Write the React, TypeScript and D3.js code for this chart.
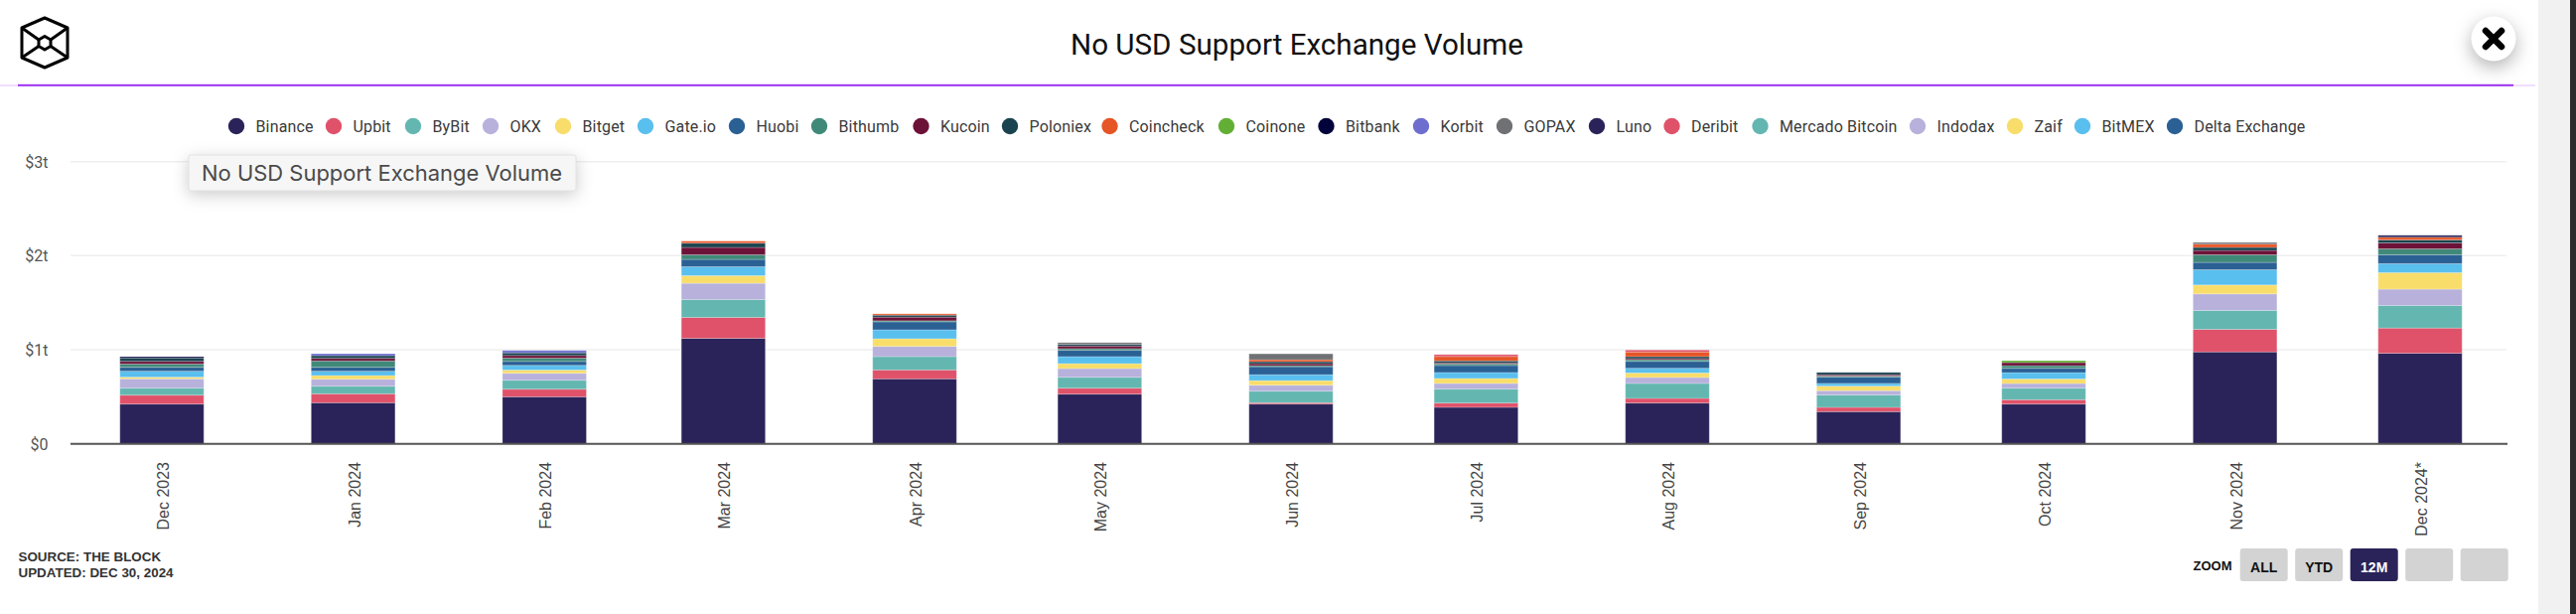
import React from 'react';
import * as d3 from 'd3';

const WIDTH = 2594;
const HEIGHT = 618;

const title = 'No USD Support Exchange Volume';
const categories = ['Dec 2023', 'Jan 2024', 'Feb 2024', 'Mar 2024', 'Apr 2024', 'May 2024', 'Jun 2024', 'Jul 2024', 'Aug 2024', 'Sep 2024', 'Oct 2024', 'Nov 2024', 'Dec 2024*'];
const yTicks = [0, 1, 2, 3];
const yTickLabels = ['$0', '$1t', '$2t', '$3t'];
const zoomButtons = ['ALL', 'YTD', '12M', '', ''];

// values in $ trillions, one per month
const binance = [0.423, 0.437, 0.5, 1.122, 0.691, 0.529, 0.423, 0.388, 0.434, 0.342, 0.423, 0.977, 0.963];
const upbit = [0.095, 0.095, 0.081, 0.222, 0.095, 0.063, 0.014, 0.046, 0.049, 0.046, 0.046, 0.24, 0.268];
const bybit = [0.074, 0.081, 0.095, 0.19, 0.141, 0.116, 0.123, 0.148, 0.159, 0.131, 0.123, 0.201, 0.24];
const okx = [0.099, 0.074, 0.074, 0.173, 0.109, 0.092, 0.063, 0.06, 0.063, 0.046, 0.049, 0.176, 0.173];
const bitget = [0.018, 0.039, 0.035, 0.081, 0.081, 0.053, 0.049, 0.053, 0.049, 0.049, 0.049, 0.095, 0.176];
const gateio = [0.063, 0.046, 0.049, 0.095, 0.095, 0.074, 0.063, 0.063, 0.049, 0.028, 0.067, 0.162, 0.095];
const huobi = [0.042, 0.042, 0.042, 0.078, 0.085, 0.067, 0.085, 0.074, 0.074, 0.067, 0.046, 0.078, 0.095];
const bithumb = [0.035, 0.067, 0.035, 0.049, 0.011, 0.018, 0.011, 0.018, 0.018, 0.011, 0.028, 0.081, 0.063];
const kucoin = [0.028, 0.028, 0.028, 0.078, 0.039, 0.028, 0.021, 0.011, 0.011, 0.014, 0.032, 0.046, 0.063];
const poloniex = [0.035, 0.028, 0.028, 0.046, 0.021, 0.018, 0.021, 0.021, 0.021, 0.025, 0, 0.032, 0.032];
const coincheck = [0, 0, 0, 0.021, 0.014, 0, 0.021, 0.046, 0.049, 0, 0, 0.035, 0.028];
const coinone = [0, 0, 0, 0, 0, 0, 0, 0, 0, 0, 0.021, 0, 0];
const bitbank = [0.014, 0, 0, 0, 0, 0, 0, 0, 0, 0, 0, 0, 0];
const korbit = [0, 0.021, 0.025, 0, 0, 0, 0, 0, 0, 0, 0, 0, 0];
const gopax = [0, 0, 0, 0, 0, 0.018, 0.063, 0, 0, 0, 0, 0.018, 0];
const luno = [0, 0, 0, 0, 0, 0, 0, 0, 0, 0, 0, 0, 0.021];
const deribit = [0, 0, 0, 0, 0, 0, 0, 0.021, 0.021, 0, 0, 0, 0];
const zeros = [0, 0, 0, 0, 0, 0, 0, 0, 0, 0, 0, 0, 0];

const seriesNames = ['Binance', 'Upbit', 'ByBit', 'OKX', 'Bitget', 'Gate.io', 'Huobi', 'Bithumb', 'Kucoin', 'Poloniex', 'Coincheck', 'Coinone', 'Bitbank', 'Korbit', 'GOPAX', 'Luno', 'Deribit', 'Mercado Bitcoin', 'Indodax', 'Zaif', 'BitMEX', 'Delta Exchange'];
const seriesValues = [binance, upbit, bybit, okx, bitget, gateio, huobi, bithumb, kucoin, poloniex, coincheck, coinone, bitbank, korbit, gopax, luno, deribit, zeros, zeros, zeros, zeros, zeros];
const seriesColors = ['#2a2359', '#df526a', '#63b7b0', '#b7b1dc', '#f8dd6b', '#59bfee', '#2a6094', '#408979', '#6c1238', '#19434f', '#e65526', '#63af35', '#02033a', '#6e6ecf', '#707174', '#2a2359', '#df526a', '#63b7b0', '#b7b1dc', '#f8dd6b', '#59bfee', '#2a6094'];
const legendX = [238, 336, 416, 494, 567, 650, 742, 825, 927.5, 1017, 1117.5, 1235, 1335.5, 1431, 1515, 1608, 1683.5, 1772.5, 1931, 2029, 2097, 2190];

const months = d3.utcMonth.range(new Date(Date.UTC(2023, 11, 1)), new Date(Date.UTC(2025, 0, 1)));

const x = d3.scaleUtc().domain([months[0], months[months.length - 1]]).range([163, 2437]);
const y = d3.scaleLinear().domain([0, 3]).range([446.7, 162.7]);
const barWidth = 84.5;

const rows = months.map((_, i) => {
  const row: Record<string, number> = {};
  seriesNames.forEach((name, s) => { row[name] = seriesValues[s][i]; });
  return row;
});
const stacked = d3.stack().keys(seriesNames)(rows);

const uiFont = 'Roboto, sans-serif';
const helvetica = '"Liberation Sans", Arial, sans-serif';

const App = () => (
  <svg width={WIDTH} height={HEIGHT} style={{ position: 'fixed', left: 0, top: 0, background: '#fff' }}>
    {/* page chrome on the right */}
    <rect x={2556} y={0} width={32} height={HEIGHT} fill="#f1f1f1" />
    <rect x={2588} y={0} width={6} height={HEIGHT} fill="#2b2b2b" />

    {/* logo */}
    <g fill="none" stroke="#000" strokeWidth={3} strokeLinejoin="round">
      <path d="M45 18 L68 28 L68 58 L45 68 L22 58 L22 28 Z" />
      <path d="M45 36.5 L51 40 L51 46.5 L45 50 L39 46.5 L39 40 Z" />
      <path d="M22 28 L39 40 M68 28 L51 40 M22 58 L39 46.5 M68 58 L51 46.5" />
    </g>

    <text x={1306} y={55} textAnchor="middle" fontFamily={uiFont} fontSize={29.6} fill="#111">{title}</text>

    <rect x={0} y={85.5} width={2553} height={1} fill="#e2c0ff" />
    <rect x={18} y={84.8} width={2513} height={2} fill="#a033f0" />

    {/* close button */}
    <circle cx={2511} cy={39} r={22.5} fill="#fff" style={{ filter: 'drop-shadow(0 6px 9px rgba(0,0,0,0.3))' }} />
    <path d="M2503 31 L2519 47 M2519 31 L2503 47" stroke="#000" strokeWidth={6.5} strokeLinecap="round" />

    {/* legend */}
    {seriesNames.map((name, i) => (
      <g key={name} transform={`translate(${legendX[i]},127)`}>
        <circle r={8.2} fill={seriesColors[i]} />
        <text x={19.5} y={5.5} fontFamily={uiFont} fontSize={16} letterSpacing={0.15} fill="#3a3a3a">{name}</text>
      </g>
    ))}

    {/* grid */}
    {yTicks.map((t, i) => (
      <g key={t}>
        {t > 0 && <line x1={71} x2={2524} y1={y(t)} y2={y(t)} stroke="#efefef" strokeWidth={1.5} />}
        <text x={48.5} y={y(t) + 6} textAnchor="end" fontFamily={uiFont} fontSize={16} fill="#555">{yTickLabels[i]}</text>
      </g>
    ))}

    {/* bars */}
    {stacked.map((layer, s) => (
      <g key={layer.key} fill={seriesColors[s]}>
        {layer.map((d, i) => d[1] > d[0] && (
          <rect
            key={i}
            x={x(months[i]) - barWidth / 2}
            y={y(d[1])}
            width={barWidth}
            height={y(d[0]) - y(d[1])}
            stroke="#fff"
            strokeOpacity={0.22}
            strokeWidth={1}
          />
        ))}
      </g>
    ))}

    <line x1={71} x2={2525} y1={y(0)} y2={y(0)} stroke="#555" strokeWidth={2} />

    {/* x labels */}
    {categories.map((c, i) => (
      <text
        key={c}
        transform={`translate(${x(months[i]) + 7},465) rotate(-90)`}
        textAnchor="end"
        fontFamily={helvetica}
        fontSize={16}
        fill="#444"
      >
        {c}
      </text>
    ))}

    {/* source */}
    <text x={18.5} y={565} fontFamily={helvetica} fontWeight="bold" fontSize={13.4} fill="#333">SOURCE: THE BLOCK</text>
    <text x={18.5} y={581} fontFamily={helvetica} fontWeight="bold" fontSize={13.4} fill="#333">UPDATED: DEC 30, 2024</text>

    {/* zoom buttons */}
    <text x={2208.5} y={574} fontFamily={helvetica} fontWeight="bold" fontSize={13} fill="#111">ZOOM</text>
    {zoomButtons.map((label, i) => (
      <g key={i} transform={`translate(${2255.7 + i * 55.5},552)`}>
        <rect width={48} height={33} rx={3} fill={label === '12M' ? '#2a2359' : '#d3d3d3'} />
        <text x={24} y={23.5} textAnchor="middle" fontFamily={helvetica} fontWeight="bold" fontSize={14} fill={label === '12M' ? '#fff' : '#111'}>{label}</text>
      </g>
    ))}

    {/* tooltip */}
    <rect x={190} y={156} width={390} height={36} rx={2} fill="#f6f6f6" stroke="#e2e2e2" style={{ filter: 'drop-shadow(0 4px 8px rgba(0,0,0,0.2))' }} />
    <text x={203} y={181.5} fontFamily={'Inter, sans-serif'} fontSize={22} fill="#4a4a4a" textLength={363} lengthAdjust="spacingAndGlyphs">{title}</text>
  </svg>
);

export default App;
